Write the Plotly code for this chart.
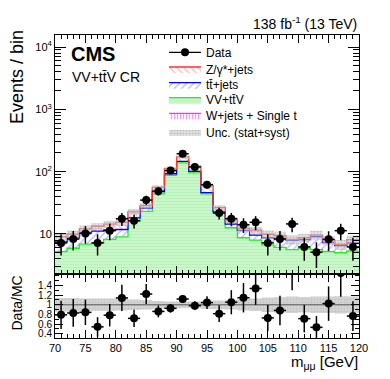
import plotly.graph_objects as go
from plotly.subplots import make_subplots
import numpy as np

# ---- data ----
bin_edges = [70 + 2 * i for i in range(26)]
bin_centers = [71 + 2 * i for i in range(25)]

data_counts = [7.2, 8.3, 10.2, 7.2, 11.3, 17.6, 16.3, 35, 48.4, 104, 194, 119, 61.8,
               21.7, 17.6, 14.1, 15.4, 7.2, 8.3, 14.5, 6.2, 5.1, 8.2, 11.3, 6.2]

wjets = [0.1, 0.1, 0.1, 0.1, 0.1, 0.1, 0.1, 0.1, 0.1, 0.2, 0.2, 0.2, 0.1,
         0.1, 0.1, 0.1, 0.1, 0.1, 0.1, 0.1, 0.1, 0.1, 0.1, 0.1, 0.1]
vv_ttv = [5.1, 5.8, 6.8, 7.0, 8.1, 8.9, 16.0, 23.0, 44.0, 87.5, 138.0, 95.6, 44.0,
          21.7, 12.5, 8.6, 7.9, 6.6, 6.0, 5.5, 5.8, 5.5, 5.1, 4.9, 5.2]
ttjets = [2.3, 2.8, 3.6, 4.0, 3.4, 2.8, 2.0, 3.0, 4.0, 5.0, 8.0, 5.0, 2.0,
          0.8, 1.8, 2.7, 1.6, 2.0, 2.3, 2.3, 2.2, 3.5, 2.1, 1.5, 1.9]
zjets = [1.6, 1.3, 1.6, 2.2, 2.8, 3.6, 4.6, 2.5, 8.0, 19.5, 27.0, 20.4, 13.0,
         4.0, 2.3, 0.9, 1.9, 1.2, 1.0, 0.3, 0.6, 0.5, 0.7, 0.3, 0.9]
rel_unc = [0.14, 0.14, 0.13, 0.13, 0.13, 0.12, 0.11, 0.10, 0.08, 0.07, 0.07, 0.07, 0.08,
           0.09, 0.10, 0.12, 0.13, 0.15, 0.16, 0.17, 0.16, 0.17, 0.17, 0.18, 0.17]

x_tick_vals = [70, 75, 80, 85, 90, 95, 100, 105, 110, 115, 120]
y_tick_vals = [10, 100, 1000, 10000]
y_tick_text = ["10", "10<sup>2</sup>", "10<sup>3</sup>", "10<sup>4</sup>"]
r_tick_vals = [0.4, 0.6, 0.8, 1.0, 1.2, 1.4]
r_tick_text = ["0.4", "0.6", "0.8", "1", "1.2", "1.4"]

# ---- derived ----
w = np.array(wjets)
c1 = w
c2 = c1 + np.array(vv_ttv)
c3 = c2 + np.array(ttjets)
c4 = c3 + np.array(zjets)
total = c4
u = np.array(rel_unc)
d = np.array(data_counts)
derr = np.sqrt(d)
ratio = d / total
rerr = derr / total


def step(v):
    v = list(v)
    return v + [v[-1]]


FONT = "Liberation Sans, Arial, sans-serif"
fig = make_subplots(rows=2, cols=1, shared_xaxes=True, vertical_spacing=0,
                    row_heights=[0.7888, 0.2112])

# baseline for stacking
fig.add_trace(go.Scatter(x=bin_edges, y=step([1e-2] * 25), mode="lines",
                         line=dict(width=0, shape="hv"), showlegend=False,
                         hoverinfo="skip"), row=1, col=1)
# W+jets + single t
fig.add_trace(go.Scatter(x=bin_edges, y=step(c1), mode="lines", fill="tonexty",
                         line=dict(color="#ff00ff", width=1, shape="hv"),
                         fillcolor="white",
                         fillpattern=dict(shape="|", fgcolor="#ff33ff", bgcolor="white",
                                          size=3, solidity=0.4),
                         name="W+jets + Single t", legend="legend5"), row=1, col=1)
# VV + ttV
fig.add_trace(go.Scatter(x=bin_edges, y=step(c2), mode="lines", fill="tonexty",
                         line=dict(color="#22ee22", width=1.3, shape="hv"),
                         fillcolor="#cdf7cd",
                         fillpattern=dict(shape="-", fgcolor="#a6eea6", bgcolor="#cdf7cd",
                                          size=3, solidity=0.45),
                         name="VV+tt\u0304V", legend="legend4"), row=1, col=1)
# tt+jets
fig.add_trace(go.Scatter(x=bin_edges, y=step(c3), mode="lines", fill="tonexty",
                         line=dict(color="#0000ff", width=1.3, shape="hv"),
                         fillcolor="white",
                         fillpattern=dict(shape="/", fgcolor="#6a6aff", bgcolor="white",
                                          size=5, solidity=0.25),
                         name="tt\u0304+jets", legend="legend3"), row=1, col=1)
# Z/gamma*+jets
fig.add_trace(go.Scatter(x=bin_edges, y=step(c4), mode="lines", fill="tonexty",
                         line=dict(color="#ff3030", width=1.3, shape="hv"),
                         fillcolor="white",
                         fillpattern=dict(shape="\\", fgcolor="#ff7070", bgcolor="white",
                                          size=5, solidity=0.25),
                         name="Z/\u03b3*+jets", legend="legend2"), row=1, col=1)
# uncertainty band main
fig.add_trace(go.Scatter(x=bin_edges, y=step(total * (1 - u)), mode="lines",
                         line=dict(width=0, shape="hv"), showlegend=False,
                         hoverinfo="skip"), row=1, col=1)
fig.add_trace(go.Scatter(x=bin_edges, y=step(total * (1 + u)), mode="lines", fill="tonexty",
                         line=dict(width=0, shape="hv"),
                         fillcolor="rgba(170,170,170,0.45)",
                         fillpattern=dict(shape=".", fgcolor="#9a9a9a",
                                          bgcolor="rgba(205,205,205,0.55)", size=3, solidity=0.4),
                         name="Unc. (stat+syst)", legend="legend6"), row=1, col=1)
# data
fig.add_trace(go.Scatter(x=bin_centers, y=data_counts, mode="markers",
                         marker=dict(color="black", size=8),
                         error_y=dict(type="data", array=derr, color="black", thickness=1.5, width=0),
                         error_x=dict(type="constant", value=1, color="black", thickness=1.5, width=0),
                         showlegend=False), row=1, col=1)
fig.add_trace(go.Scatter(x=[None], y=[None], mode="lines+markers",
                         marker=dict(color="black", size=8), line=dict(color="black", width=1.3),
                         name="Data", legend="legend"), row=1, col=1)

# ratio panel
fig.add_trace(go.Scatter(x=bin_edges, y=step(1 - u), mode="lines",
                         line=dict(width=0, shape="hv"), showlegend=False,
                         hoverinfo="skip"), row=2, col=1)
fig.add_trace(go.Scatter(x=bin_edges, y=step(1 + u), mode="lines", fill="tonexty",
                         line=dict(width=0, shape="hv"),
                         fillpattern=dict(shape=".", fgcolor="#b0b0b0",
                                          bgcolor="#d6d6d6", size=3, solidity=0.4),
                         showlegend=False, hoverinfo="skip"), row=2, col=1)
fig.add_trace(go.Scatter(x=[70, 120], y=[1, 1], mode="lines",
                         line=dict(color="#555555", width=1), showlegend=False,
                         hoverinfo="skip"), row=2, col=1)
fig.add_trace(go.Scatter(x=bin_centers, y=ratio, mode="markers",
                         marker=dict(color="black", size=8),
                         error_y=dict(type="data", array=rerr, color="black", thickness=1.5, width=0),
                         error_x=dict(type="constant", value=1, color="black", thickness=1.5, width=0),
                         showlegend=False), row=2, col=1)

minor_log = [v * m for v in [1, 10, 100, 1000] for m in range(2, 10)]

axis_common = dict(showline=True, linecolor="black", linewidth=1, mirror="ticks",
                   ticks="inside", tickcolor="black", showgrid=False, zeroline=False)

fig.update_xaxes(range=[70, 120], tickvals=x_tick_vals, ticklen=8, tickwidth=1,
                 minor=dict(dtick=1, tick0=70, ticks="inside", ticklen=4, tickcolor="black"),
                 **axis_common)
fig.update_xaxes(showticklabels=False, row=1, col=1)
fig.update_xaxes(showticklabels=True, tickfont=dict(family=FONT, size=11, color="black"),
                 row=2, col=1)

fig.update_yaxes(type="log", range=[np.log10(2.28), np.log10(15600)], tickvals=y_tick_vals,
                 ticktext=y_tick_text, ticklen=11, tickwidth=1,
                 tickfont=dict(family=FONT, size=11, color="black"),
                 minor=dict(tickvals=minor_log, ticks="inside", ticklen=6, tickcolor="black"),
                 row=1, col=1, **axis_common)
fig.update_yaxes(range=[0.31, 1.64], tickvals=r_tick_vals, ticktext=r_tick_text,
                 ticklen=8, tickwidth=1, tickfont=dict(family=FONT, size=10, color="black"),
                 minor=dict(dtick=0.1, tick0=0.3, ticks="inside", ticklen=4, tickcolor="black"),
                 row=2, col=1, **axis_common)

PL, PR, PT, PB = 47, 351, 27, 330


def px(x):
    return (x - PL) / (PR - PL)


def py(y):
    return (PB - y) / (PB - PT)


annotations = [
    dict(text="<b>CMS</b>", x=px(61), y=py(45.5), xanchor="left", yanchor="middle",
         font=dict(family=FONT, size=20, color="black")),
    dict(text="VV+tt\u0304V CR", x=px(62), y=py(69), xanchor="left", yanchor="middle",
         font=dict(family=FONT, size=14, color="black")),
    dict(text="138 fb<sup>-1</sup> (13 TeV)", x=px(351), y=py(15), xanchor="right",
         yanchor="middle", font=dict(family=FONT, size=14, color="black")),
    dict(text="Events / bin", x=px(9), y=py(20), xanchor="center", yanchor="top",
         textangle=-90, font=dict(family=FONT, size=18, color="black")),
    dict(text="Data/MC", x=px(8), y=py(295.5), xanchor="center", yanchor="middle",
         textangle=-90, font=dict(family=FONT, size=14, color="black")),
    dict(text="m<sub>\u03bc\u03bc</sub> [GeV]", x=px(352), y=py(354), xanchor="right",
         yanchor="middle", font=dict(family=FONT, size=15, color="black")),
]
for a in annotations:
    a.update(xref="paper", yref="paper", showarrow=False)

legend_rows = [44.3, 61, 76.7, 91.7, 107.3, 124]
legend_names = ["legend", "legend2", "legend3", "legend4", "legend5", "legend6"]
legend_layout = {}
for nm, row in zip(legend_names, legend_rows):
    legend_layout[nm] = dict(x=px(156), y=py(row), xanchor="left", yanchor="middle",
                             bgcolor="rgba(0,0,0,0)", borderwidth=0, itemwidth=32,
                             font=dict(family=FONT, size=12, color="black"),
                             itemsizing="trace")

fig.update_layout(
    width=390, height=379,
    margin=dict(l=PL, r=390 - PR, t=PT, b=379 - PB, pad=0),
    paper_bgcolor="white", plot_bgcolor="white",
    annotations=annotations,
    showlegend=True,
    **legend_layout,
)

fig.write_html("out.html")
